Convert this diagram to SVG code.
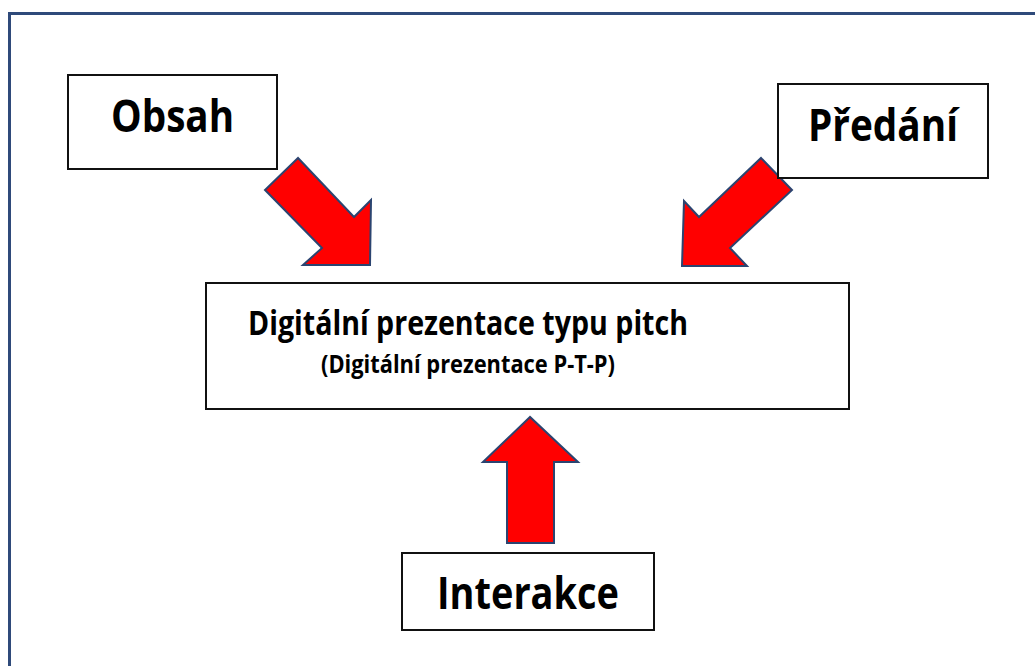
<svg xmlns="http://www.w3.org/2000/svg" width="1035" height="666" viewBox="0 0 1035 666">
  <style>
    .frame { fill: #ffffff; stroke: #2F4A7A; stroke-width: 3; }
    .box { fill: #ffffff; stroke: #111111; stroke-width: 2; }
    .arrow { fill: #FF0000; stroke: #2B4470; stroke-width: 2; stroke-linejoin: miter; }
    .label { font-family: "Open Sans", "Lato", "Liberation Sans", sans-serif; font-weight: 700; fill: #000000; text-anchor: middle; }
    .big { font-size: 44px; }
    .title { font-size: 34px; }
    .sub { font-size: 25px; }
  </style>

  <!-- outer frame, open to the right and bottom -->
  <rect class="frame" x="9.5" y="13.5" width="1100" height="800"/>

  <!-- connectors: block arrows into the central box -->
  <g id="connectors">
    <polygon id="arrow-obsah" class="arrow"
      points="298,158 265,190 322,248 303,265 370,265 371,200 354,217"/>
    <polygon id="arrow-predani" class="arrow"
      points="761,158 792,190 730,248 747,266 682,266 684,201 699,217"/>
    <polygon id="arrow-interakce" class="arrow"
      points="530,417 483,462 507,462 507,543 554,543 554,462 578,462"/>
  </g>

  <g id="node-obsah">
    <rect class="box" x="68" y="75" width="209" height="94"/>
    <text class="label big" x="172.5" y="132" textLength="123" lengthAdjust="spacingAndGlyphs">Obsah</text>
  </g>

  <g id="node-predani">
    <rect class="box" x="778" y="84" width="210" height="94"/>
    <text class="label big" x="883" y="141" textLength="150" lengthAdjust="spacingAndGlyphs">Předání</text>
  </g>

  <g id="node-center">
    <rect class="box" x="206" y="283" width="643" height="126"/>
    <text class="label title" x="468" y="335" textLength="440" lengthAdjust="spacingAndGlyphs">Digitální prezentace typu pitch</text>
    <text class="label sub" x="468" y="373" textLength="294" lengthAdjust="spacingAndGlyphs">(Digitální prezentace P-T-P)</text>
  </g>

  <g id="node-interakce">
    <rect class="box" x="402" y="553" width="252" height="77"/>
    <text class="label big" x="528" y="609" textLength="182" lengthAdjust="spacingAndGlyphs">Interakce</text>
  </g>
</svg>
